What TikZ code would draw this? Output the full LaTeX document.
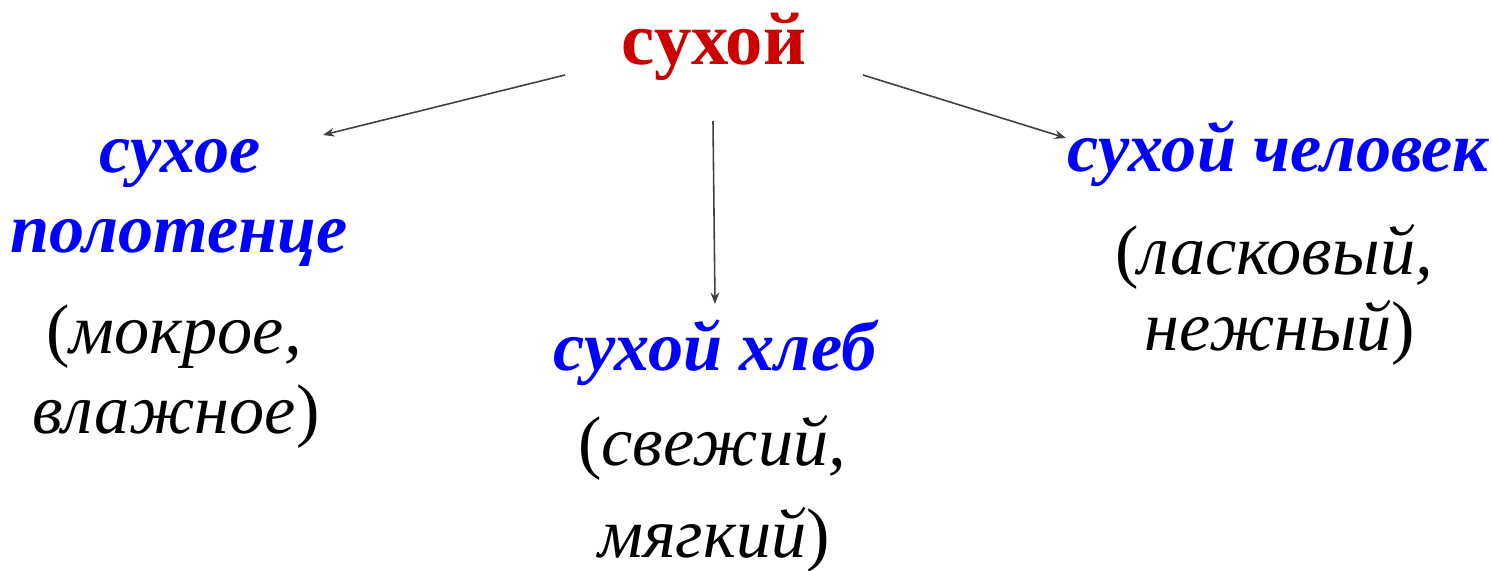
\documentclass[tikz,border=0pt]{standalone}
\usepackage{fontspec}
\setmainfont{Liberation Serif}
\usetikzlibrary{arrows.meta}
\definecolor{redw}{RGB}{204,0,0}
\definecolor{bluew}{RGB}{0,0,255}
\definecolor{arrowc}{RGB}{64,64,64}
\tikzset{
  rootw/.style={anchor=base,inner sep=0pt,text=redw,font=\fontsize{42.5}{42.5}\selectfont\bfseries},
  phrase/.style={anchor=base,inner sep=0pt,text=bluew,font=\fontsize{40}{40}\selectfont\bfseries\itshape},
  anto/.style={anchor=base,inner sep=0pt,text=black,font=\fontsize{40}{40}\selectfont},
  link/.style={draw=arrowc,line width=0.9pt,-{Stealth[length=6.5pt,width=5pt]}}
}
\begin{document}
\begin{tikzpicture}[x=0.02cm,y=-0.02cm]
\useasboundingbox (0,0) rectangle (1492,571);
\node[rootw] (root) at (714,65) {сухой};
% left
\node[phrase] (l1) at (180,173) {сухое};
\node[phrase] (l2) at (179,253) {полотенце};
\node[anto] (l3) at (174,353) {(\textit{мокрое,}};
\node[anto] (l4) at (176,433) {\textit{влажное})};
% middle
\node[phrase] (m1) at (715,370) {сухой хлеб};
\node[anto] (m2) at (712,465) {(\textit{свежий,}};
\node[anto] (m3) at (714,557) {\textit{мягкий})};
% right
\node[phrase] (r1) at (1278,172) {сухой человек};
\node[anto] (r2) at (1274,275) {(\textit{ласковый,}};
\node[anto] (r3) at (1280,350) {\textit{нежный})};
% connector ends
\coordinate (aL0) at (565,75);
\coordinate (aL1) at (323,135);
\coordinate (aM0) at (713,121);
\coordinate (aM1) at (715,304);
\coordinate (aR0) at (863,75);
\coordinate (aR1) at (1066,138);
\draw[link] (aL0) -- (aL1);
\draw[link] (aM0) -- (aM1);
\draw[link] (aR0) -- (aR1);
\end{tikzpicture}
\end{document}
